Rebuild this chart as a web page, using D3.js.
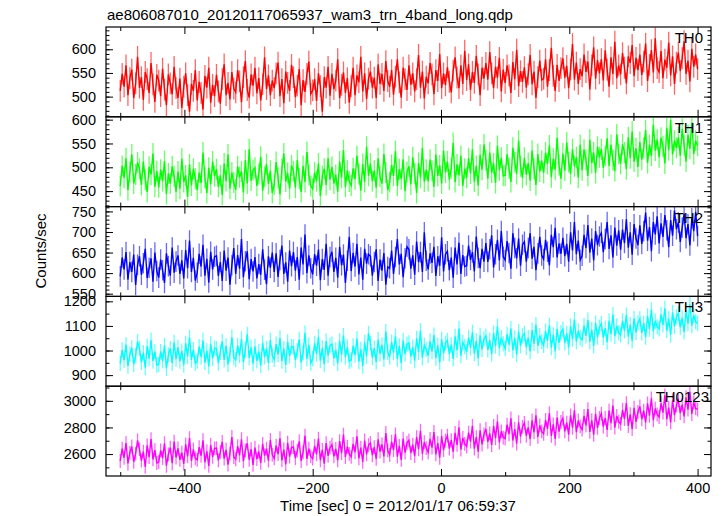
<!DOCTYPE html>
<html><head><meta charset="utf-8">
<script src="https://cdn.jsdelivr.net/npm/d3@7"></script>
<style>body{margin:0;background:#fff} text{font-family:"Liberation Sans",Arial,sans-serif}</style>
</head><body><svg id="c" width="723" height="516"></svg>
<script>
const titleText = "ae806087010_20120117065937_wam3_trn_4band_long.qdp";
const xLabel = "Time [sec] 0 = 2012/01/17 06:59:37";
const yLabel = "Counts/sec";
const bandNames = ["TH0","TH1","TH2","TH3","TH0123"];
const tStart = -500, tStep = 3;

const th0 = [
512,548,521,566,503,539,557,497,528,584,
519,541,493,552,537,508,571,526,489,546,
534,501,559,515,482,547,528,505,563,518,
497,538,476,521,549,503,468,527,512,556,
492,531,508,473,544,519,561,487,525,501,
546,511,485,537,568,503,529,494,552,517,
509,556,532,488,541,575,514,498,547,523,
561,507,539,492,526,583,516,545,503,534,
518,549,572,501,537,486,553,529,512,567,
541,499,523,558,482,535,510,548,574,506,
513,537,491,549,522,468,541,519,563,502,
548,516,534,579,497,525,551,508,539,487,
522,561,503,545,530,584,511,549,495,538,
553,519,540,497,568,527,548,512,575,533,
521,556,504,542,579,530,498,561,537,514,
566,525,549,511,537,588,519,553,496,542,
528,571,547,505,556,533,590,518,549,524,
562,531,509,555,583,540,518,566,527,597,
535,568,514,552,529,586,547,503,561,538,
571,536,594,549,518,563,540,582,511,557,
529,566,545,508,573,537,599,522,554,531,
562,519,547,588,526,553,497,541,576,535,
538,579,521,556,603,544,512,567,533,560,
581,540,565,518,557,611,536,572,527,558,
543,589,552,574,515,566,604,538,577,549,
579,534,598,557,521,583,548,616,539,566,
547,592,561,528,585,571,609,543,582,556,
589,546,574,612,533,567,598,551,623,560,
552,596,539,578,561,614,545,585,527,572,
593,554,581,617,548,576,532,601,563,589,
558];

const th1 = [
461,503,478,519,452,490,527,466,485,510,
497,463,512,474,448,501,485,529,459,492,
458,495,471,513,444,487,466,502,481,449,
491,455,518,469,483,438,506,462,497,476,
452,489,467,531,478,446,499,464,512,481,
496,459,483,442,508,471,527,455,489,468,
453,502,479,491,447,515,466,538,472,494,
499,461,486,522,451,480,507,465,493,446,
464,511,478,443,496,529,470,488,455,504,
492,457,515,476,448,503,469,532,484,461,
455,489,471,508,440,482,497,463,519,474,
501,466,484,449,512,478,536,459,493,470,
462,498,475,524,486,451,507,469,543,482,
508,471,493,457,519,480,466,528,489,452,
469,505,482,534,461,496,475,517,450,490,
502,464,521,487,446,509,478,541,470,495,
471,516,493,459,527,482,504,466,535,489,
512,474,498,551,469,506,483,524,461,497,
478,519,487,538,470,503,462,526,495,548,
515,476,531,489,508,467,545,494,520,482,
483,527,498,469,541,511,486,556,502,478,
520,484,509,472,535,497,463,528,491,514,
488,531,507,546,479,518,495,562,504,476,
529,493,552,511,486,538,502,521,478,547,
494,537,516,482,558,509,531,488,543,521,
538,499,524,561,503,547,515,492,569,528,
507,548,531,496,563,519,575,512,540,501,
553,516,541,578,509,547,524,589,535,558,
521,562,544,508,583,536,599,527,556,541,
563,524,581,547,512,568,539,594,528,556,
545];

const th2 = [
592,638,609,651,584,627,603,645,571,620,
641,596,624,659,588,613,636,579,650,605,
589,633,607,576,648,617,594,662,601,628,
643,598,631,587,656,612,679,603,637,582,
601,647,616,669,594,635,577,652,609,640,
642,593,627,581,655,606,638,572,619,661,
598,644,611,683,590,629,653,585,634,604,
639,587,622,596,658,608,573,641,613,650,
603,648,591,632,667,598,626,579,655,617,
651,606,639,584,662,621,694,600,643,612,
597,646,618,657,583,634,608,671,594,639,
652,603,637,589,664,619,645,576,630,688,
605,649,616,671,597,638,584,659,623,646,
641,594,627,658,581,633,606,649,572,615,
612,655,598,639,683,621,647,590,636,664,
658,611,643,596,677,627,651,603,699,630,
609,648,625,664,593,641,618,687,604,646,
653,607,638,589,662,621,674,598,644,616,
618,667,632,651,604,689,637,612,659,628,
673,627,658,692,614,646,681,631,702,640,
632,678,649,611,697,661,636,684,618,669,
676,628,661,697,635,664,607,648,688,643,
634,681,652,619,693,663,710,638,672,647,
686,641,671,628,699,655,724,646,679,632,
642,693,661,717,650,684,631,702,668,689,
698,651,683,724,659,692,638,711,667,704,
657,706,673,731,662,699,645,719,684,668,
716,671,702,747,679,712,653,724,694,738,
672,721,688,741,704,663,729,691,752,707,
723,676,711,744,685,719,667,733,702,749,
690];

const th3 = [
948,1003,961,1024,937,985,1011,944,979,1036,
1009,952,991,930,1018,967,1042,958,996,941,
943,996,958,1021,927,982,1008,949,1033,965,
1013,957,998,941,1029,976,1053,962,1004,948,
957,1016,974,1041,951,999,935,1027,968,1010,
1008,949,993,1037,962,1019,944,985,1054,971,
963,1021,979,1047,953,1004,1066,970,1013,947,
1017,958,996,939,1031,974,1009,950,1042,981,
964,1026,983,1051,957,1008,941,1035,978,1017,
1014,961,999,1045,952,990,1072,966,1023,949,
967,1029,985,1056,959,1011,944,1038,980,1021,
1026,968,1003,947,1039,982,1061,973,1014,956,
962,1019,981,1048,955,1005,937,1033,976,1070,
1029,971,1010,953,1044,986,1023,964,1077,993,
973,1034,991,1058,965,1018,949,1041,985,1026,
1031,976,1014,959,1049,993,1081,970,1022,1005,
979,1038,996,1063,969,1021,952,1046,988,1030,
1041,985,1024,966,1058,1001,1089,979,1033,1016,
994,1053,1011,1074,987,1039,968,1062,1005,1047,
1059,1003,1042,985,1071,1018,1098,1009,1052,1027,
1008,1066,1024,1089,1001,1051,983,1077,1019,1060,
1069,1013,1052,996,1083,1028,1105,1019,1061,1037,
1021,1079,1039,1102,1012,1064,997,1088,1031,1073,
1087,1031,1070,1013,1099,1045,1126,1036,1080,1052,
1043,1101,1060,1124,1036,1085,1019,1112,1054,1095,
1109,1052,1091,1034,1121,1067,1146,1058,1100,1073,
1063,1121,1080,1144,1056,1105,1039,1131,1074,1112,
1129,1072,1111,1054,1141,1087,1165,1078,1120,1096,
1088,1146,1104,1171,1081,1130,1063,1155,1098,1137,
1151,1094,1133,1076,1162,1109,1188,1101,1143,1117,
1110];

const th0123 = [
2548,2641,2572,2683,2529,2610,2657,2541,2603,2702,
2636,2551,2618,2504,2665,2577,2712,2560,2629,2533,
2540,2627,2569,2681,2512,2598,2648,2531,2694,2574,
2642,2556,2611,2527,2673,2583,2720,2549,2635,2568,
2556,2652,2587,2704,2538,2621,2511,2668,2579,2643,
2645,2553,2614,2691,2566,2632,2520,2605,2728,2577,
2561,2659,2590,2711,2546,2628,2681,2557,2637,2519,
2648,2562,2619,2534,2677,2588,2641,2551,2706,2596,
2567,2663,2599,2719,2552,2634,2523,2685,2581,2650,
2652,2570,2626,2696,2548,2613,2738,2564,2641,2582,
2566,2661,2597,2716,2553,2631,2528,2682,2587,2648,
2671,2582,2639,2552,2697,2607,2746,2578,2655,2601,
2579,2676,2612,2733,2567,2648,2541,2702,2598,2667,
2683,2591,2652,2564,2711,2619,2673,2582,2758,2627,
2594,2693,2629,2748,2581,2662,2556,2716,2611,2684,
2703,2608,2671,2584,2727,2636,2775,2603,2689,2645,
2613,2714,2648,2766,2597,2683,2572,2735,2629,2702,
2738,2641,2704,2617,2759,2669,2801,2634,2721,2676,
2657,2761,2693,2812,2641,2727,2618,2779,2672,2748,
2789,2692,2756,2668,2811,2719,2846,2687,2771,2724,
2716,2821,2749,2868,2702,2788,2679,2839,2731,2804,
2834,2737,2801,2712,2853,2763,2891,2729,2815,2771,
2752,2856,2789,2907,2736,2823,2714,2874,2768,2841,
2869,2771,2836,2746,2891,2798,2929,2764,2852,2808,
2783,2887,2816,2938,2767,2854,2745,2903,2797,2871,
2904,2806,2871,2781,2926,2833,2964,2799,2887,2843,
2827,2931,2862,2983,2811,2899,2788,2948,2841,2916,
2958,2861,2926,2837,2981,2888,3019,2854,2942,2897,
2878,2982,2911,3041,2862,2949,2838,3003,2893,2966,
3004,2907,2972,2883,3027,2934,3068,2901,2988,2943,
2935];

const seriesValues = [th0, th1, th2, th3, th0123];
const errBars = [23, 22, 25, 31, 52];
const yDomains = [[457.4, 647], [417.5, 606], [543.4, 761.7], [855, 1220], [2435, 3110]];
const yMajorTicks = [[500,550,600],[450,500,550,600],[550,600,650,700,750],[900,1000,1100,1200],[2600,2800,3000]];
const yMinorStep = [10, 10, 10, 50, 100];
const xDomain = [-522.2, 420.9];
const xMajorTicks = [-400,-200,0,200,400];
const xMinorTicks = [-500,-300,-100,100,300];
const colors = ["#ff0000","#00ff00","#0000ff","#00ffff","#ff00ff"];

const svg = d3.select("#c");
const L = 106, R = 711, T = 27, B = 476;
const nP = 5, pH = (B - T) / nP;
const x = d3.scaleLinear().domain(xDomain).range([L, R]);

svg.append("text").attr("x", 107).attr("y", 20).attr("font-size", 15).text(titleText);

const defs = svg.append("defs");

seriesValues.forEach((vals, i) => {
  const top = T + i * pH, bot = top + pH;
  const y = d3.scaleLinear().domain(yDomains[i]).range([bot, top]);
  const data = vals.map((v, k) => ({t: tStart + k * tStep, v}));
  const g = svg.append("g");
  defs.append("clipPath").attr("id", "cp" + i).append("rect")
    .attr("x", L).attr("y", top).attr("width", R - L).attr("height", pH);
  const pg = g.append("g").attr("clip-path", `url(#cp${i})`);
  const e = errBars[i];
  pg.append("path")
    .attr("d", data.map(d => `M${x(d.t)},${y(d.v - e)}V${y(d.v + e)}`).join(""))
    .attr("stroke", colors[i]).attr("stroke-opacity", 0.6).attr("stroke-width", 1.3).attr("fill", "none");
  pg.append("path")
    .attr("d", d3.line().x(d => x(d.t)).y(d => y(d.v))(data))
    .attr("stroke", colors[i]).attr("stroke-width", 1.4).attr("fill", "none");

  const minorY = d3.range(Math.ceil(yDomains[i][0] / yMinorStep[i]) * yMinorStep[i], yDomains[i][1], yMinorStep[i]);
  const fmt = d3.format("d");
  const al = g.append("g").attr("transform", `translate(${L},0)`)
    .call(d3.axisLeft(y).tickValues(yMajorTicks[i]).tickSize(-7).tickPadding(10).tickFormat(fmt));
  al.selectAll("text").attr("font-size", 14.5).attr("font-family", '"Liberation Sans",Arial,sans-serif').attr("fill", "#000");
  g.append("g").attr("transform", `translate(${L},0)`)
    .call(d3.axisLeft(y).tickValues(minorY).tickSize(-3.5).tickFormat(""));
  g.append("g").attr("transform", `translate(${R},0)`)
    .call(d3.axisRight(y).tickValues(yMajorTicks[i]).tickSize(-7).tickFormat(""));
  g.append("g").attr("transform", `translate(${R},0)`)
    .call(d3.axisRight(y).tickValues(minorY).tickSize(-3.5).tickFormat(""));
  g.append("g").attr("transform", `translate(0,${top})`)
    .call(d3.axisTop(x).tickValues(xMajorTicks).tickSize(-7).tickFormat(""));
  g.append("g").attr("transform", `translate(0,${top})`)
    .call(d3.axisTop(x).tickValues(xMinorTicks).tickSize(-4).tickFormat(""));
  const isLast = i === nP - 1;
  const ab = g.append("g").attr("transform", `translate(0,${bot})`)
    .call(d3.axisBottom(x).tickValues(xMajorTicks).tickSize(-7).tickPadding(7)
      .tickFormat(isLast ? (d => d3.format("d")(d).replace("-", "\u2212")) : ""));
  ab.selectAll("text").attr("font-size", 14.5).attr("font-family", '"Liberation Sans",Arial,sans-serif').attr("fill", "#000");
  g.append("g").attr("transform", `translate(0,${bot})`)
    .call(d3.axisBottom(x).tickValues(xMinorTicks).tickSize(-4).tickFormat(""));
  g.selectAll(".domain").remove();
  g.selectAll(".tick line").attr("stroke", "#000");
  g.append("rect").attr("x", L).attr("y", top).attr("width", R - L).attr("height", pH)
    .attr("fill", "none").attr("stroke", "#000").attr("stroke-width", 1.2);
  g.append("text").attr("x", isLast ? 709 : 703).attr("y", top + 16)
    .attr("text-anchor", "end").attr("font-size", 15).text(bandNames[i]);
});

svg.append("text").attr("x", 398).attr("y", 511).attr("text-anchor", "middle")
  .attr("font-size", 15).text(xLabel);
svg.append("text").attr("transform", "translate(46,251) rotate(-90)")
  .attr("text-anchor", "middle").attr("font-size", 15).text(yLabel);
</script>
</body></html>
